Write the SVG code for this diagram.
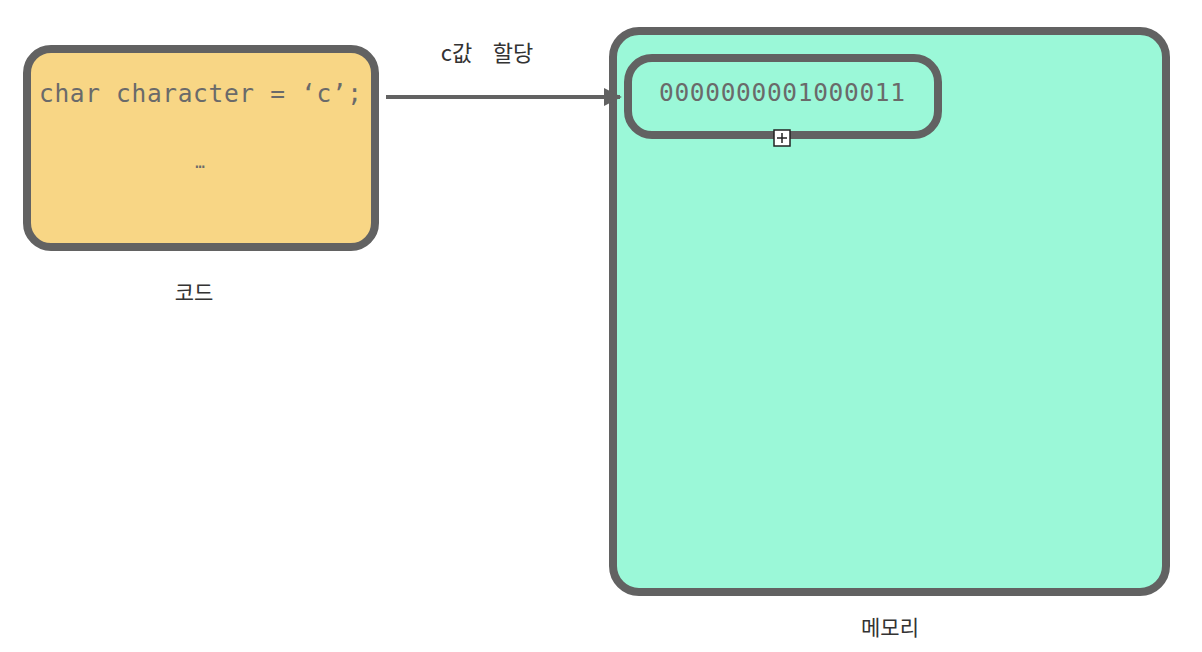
<svg xmlns="http://www.w3.org/2000/svg" width="1202" height="652" viewBox="0 0 1202 652">
<defs>
<style>
.box{stroke:#626262;stroke-width:8}
.mono{font-family:"DejaVu Sans Mono","Liberation Mono",monospace;font-size:24.5px;fill:#6a6a6a}
.lbl{font-family:"Noto Sans CJK KR","Noto Sans",sans-serif;font-size:21px;fill:#333;text-anchor:middle}
</style>
<marker id="arr" viewBox="0 0 10 10" refX="9" refY="5" markerWidth="4.5" markerHeight="4.5" orient="auto" markerUnits="strokeWidth">
<path d="M0,0 L10,5 L0,10 z" fill="#626262"/>
</marker>
</defs>
<rect width="1202" height="652" fill="#ffffff"/>
<g id="code">
<rect class="box" x="27" y="49" width="348" height="198" rx="24" fill="#f8d685"/>
<text class="mono" x="39" y="102" textLength="323" lengthAdjust="spacing">char character = ‘c’;</text>
<text class="mono" x="200" y="168" text-anchor="middle" style="font-size:16px">…</text>
<text class="lbl" x="194" y="300">코드</text>
</g>
<g id="memory">
<rect class="box" x="613" y="31" width="553" height="561" rx="26" fill="#9bf8d8"/>
<text class="lbl" x="890" y="635">메모리</text>
</g>
<g id="cell">
<rect class="box" x="628" y="58" width="310" height="77" rx="24" fill="#9bf8d8"/>
<text class="mono" x="659" y="101" textLength="246" lengthAdjust="spacing">0000000001000011</text>
<rect x="774" y="130" width="16" height="16" fill="#ffffff" stroke="#222" stroke-width="1.5"/>
<path d="M782,133 V143 M777,138 H787" stroke="#222" stroke-width="1.5"/>
</g>
<g id="connectors">
<line x1="386" y1="97" x2="620" y2="97" stroke="#626262" stroke-width="4" marker-end="url(#arr)"/>
<text class="lbl" y="61" style="font-size:22px"><tspan x="459">c값</tspan> <tspan x="513">할당</tspan></text>
</g>
</svg>
